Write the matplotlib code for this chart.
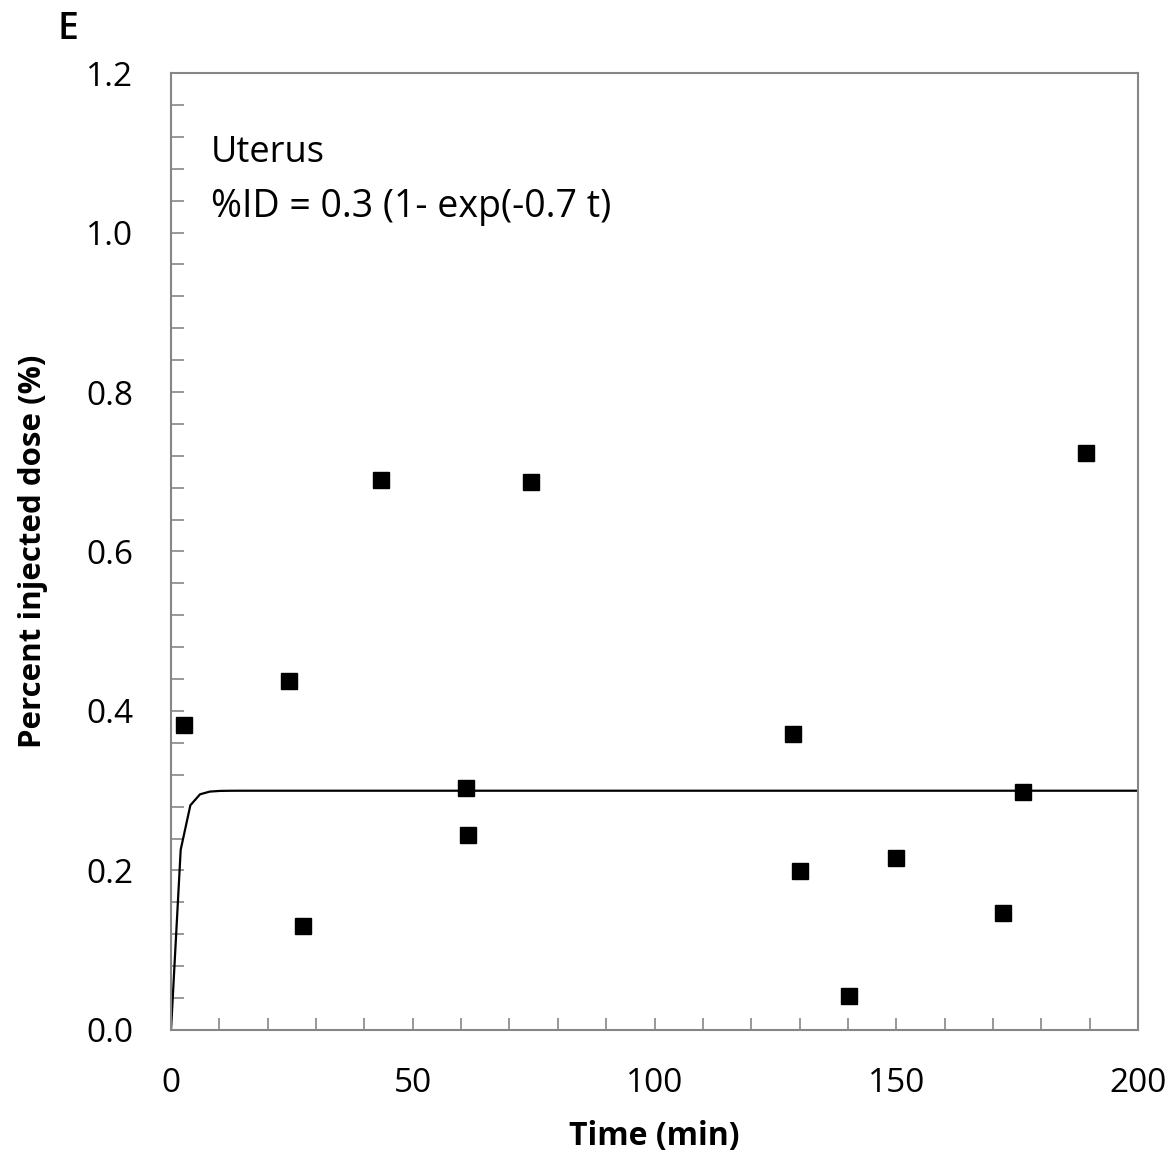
import numpy as np
import matplotlib
matplotlib.use("Agg")
import matplotlib.pyplot as plt
from matplotlib.ticker import MultipleLocator

plt.rcParams["font.family"] = ["Open Sans", "DejaVu Sans"]

# measured uterus uptake
time_min = [2.7, 24.4, 27.3, 43.4, 61.0, 61.4, 74.5, 128.6, 130.1, 140.2, 150.0, 172.1, 176.2, 189.2]
pct_id = [0.382, 0.438, 0.130, 0.690, 0.303, 0.245, 0.687, 0.371, 0.199, 0.043, 0.216, 0.147, 0.298, 0.724]

# fit parameters: %ID = A (1 - exp(-k t))
fit_A = 0.3
fit_k = 0.7

t_fit = np.arange(0, 202, 2)
id_fit = fit_A * (1 - np.exp(-fit_k * t_fit))

fig = plt.figure(figsize=(11.73, 11.54), dpi=100)
ax = fig.add_axes([0.1458, 0.1075, 0.8244, 0.8292])

ax.plot(t_fit, id_fit, color="black", lw=1.6, zorder=2)
ax.plot(time_min, pct_id, ls="none", marker="s", ms=11, color="black", zorder=3)

ax.set_xlim(0, 200)
ax.set_ylim(0, 1.2)
ax.xaxis.set_major_locator(MultipleLocator(50))
ax.xaxis.set_minor_locator(MultipleLocator(10))
ax.yaxis.set_major_locator(MultipleLocator(0.2))
ax.yaxis.set_minor_locator(MultipleLocator(0.04))
ax.yaxis.set_major_formatter(matplotlib.ticker.FormatStrFormatter("%.1f"))

for s in ax.spines.values():
    s.set_color("#868686")
    s.set_linewidth(1.5)
ax.tick_params(which="both", direction="in", color="#868686", width=1.2, top=False, right=False)
ax.tick_params(which="major", length=9, labelsize=24)
ax.tick_params(which="minor", length=9)
ax.tick_params(axis="y", pad=27)
ax.tick_params(axis="x", pad=27)

ax.set_xlabel("Time (min)", fontsize=23, fontweight="bold", labelpad=14)
ax.set_ylabel("Percent injected dose (%)", fontsize=22.5, fontweight="bold", labelpad=28)

ax.text(0.041, 0.916, "Uterus", transform=ax.transAxes, fontsize=26, va="center")
ax.text(0.041, 0.860, "%ID = 0.3 (1- exp(-0.7 t)", transform=ax.transAxes, fontsize=27, va="center")

fig.text(0.058, 0.975, "E", fontsize=27, fontweight="semibold", va="center", ha="center")

fig.savefig("out.png", dpi=100)
